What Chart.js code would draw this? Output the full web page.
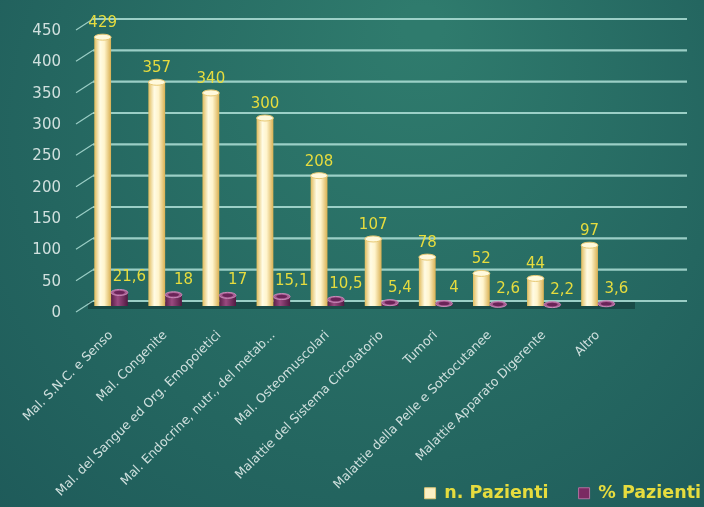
<!DOCTYPE html>
<html><head><meta charset="utf-8">
<script src="https://cdn.jsdelivr.net/npm/chart.js@4.4.0/dist/chart.umd.min.js"></script>
<style>html,body{margin:0;padding:0;background:#22625e;overflow:hidden}#wrap{width:704px;height:507px}</style>
</head><body><div id="wrap"><canvas id="c" width="704" height="507"></canvas></div>
<script>
const categories = [
  "Mal. S.N.C. e Senso",
  "Mal. Congenite",
  "Mal. del Sangue ed Org. Emopoietici",
  "Mal. Endocrine, nutr., del metab...",
  "Mal. Osteomuscolari",
  "Malattie del Sistema Circolatorio",
  "Tumori",
  "Malattie della Pelle e Sottocutanee",
  "Malattie Apparato Digerente",
  "Altro"
];
const nPazienti = [429, 357, 340, 300, 208, 107, 78, 52, 44, 97];
const pctPazienti = [21.6, 18, 17, 15.1, 10.5, 5.4, 4, 2.6, 2.2, 3.6];
const seriesNames = ["n. Pazienti", "% Pazienti"];
const yMin = 0, yMax = 450, yStep = 50;

const FONT = '"DejaVu Sans", sans-serif';
const LABEL_YELLOW = '#e6dc3e';
const AXIS_TEXT = '#d0e0de';
const PAD_B = -5, PAD_R = -27;

const bgPlugin = {
  id: 'bg',
  beforeDraw(chart) {
    const c = chart.ctx, w = chart.width, h = chart.height;
    c.save();
    const g = c.createRadialGradient(w * 0.6, h * 0.05, 20, w * 0.5, h * 0.4, w * 0.85);
    g.addColorStop(0, '#2f7b6d');
    g.addColorStop(0.55, '#246660');
    g.addColorStop(1, '#1b5456');
    c.fillStyle = g;
    c.fillRect(0, 0, w, h);
    c.restore();
  },
  afterLayout(chart) {
    chart.scales.x.bottom = chart.height;
  }
};

const gridPlugin = {
  id: 'grid3d',
  beforeDatasetsDraw(chart) {
    const c = chart.ctx, ys = chart.scales.y, area = chart.chartArea;
    c.save();
    const fy = ys.getPixelForValue(0);
    c.fillStyle = 'rgba(10,40,40,0.45)';
    c.fillRect(area.left + 4, fy - 4, area.right - area.left + 6, 7);
    ys.ticks.forEach(t => {
      const y = ys.getPixelForValue(t.value) - 5;
      c.strokeStyle = 'rgba(180,228,220,0.82)';
      c.lineWidth = 2.2;
      c.beginPath();
      c.moveTo(area.left + 9, y);
      c.lineTo(687, y);
      c.stroke();
      c.lineWidth = 1.2;
      c.beginPath();
      c.moveTo(area.left - 8, y + 11);
      c.lineTo(area.left + 9, y);
      c.stroke();
    });
    chart.data.datasets.forEach((ds, di) => {
      const meta = chart.getDatasetMeta(di);
      meta.data.forEach(el => {
        const x0 = el.x - el.width / 2, x1 = el.x + el.width / 2;
        const g = c.createLinearGradient(x0, 0, x1, 0);
        if (di === 0) {
          g.addColorStop(0, '#e0bb5c');
          g.addColorStop(0.35, '#fffbe4');
          g.addColorStop(0.6, '#fff4cc');
          g.addColorStop(1, '#d9b052');
        } else {
          g.addColorStop(0, '#5a1f48');
          g.addColorStop(0.4, '#9a4a80');
          g.addColorStop(1, '#521a42');
        }
        el.options.backgroundColor = g;
      });
    });
    c.restore();
  }
};

const labelPlugin = {
  id: 'labels3d',
  afterDatasetsDraw(chart) {
    const c = chart.ctx;
    c.save();
    chart.data.datasets.forEach((ds, di) => {
      const meta = chart.getDatasetMeta(di);
      meta.data.forEach((el, i) => {
        const rx = el.width / 2, ry = 3;
        c.beginPath();
        c.ellipse(el.x, el.y, rx, ry, 0, 0, Math.PI * 2);
        c.fillStyle = di === 0 ? '#fff9dc' : '#a85c92';
        c.fill();
        c.lineWidth = 1;
        c.strokeStyle = di === 0 ? '#e7c872' : '#c88ab8';
        c.stroke();
        if (di === 1) {
          c.beginPath();
          c.ellipse(el.x, el.y, rx - 3, ry - 1.2, 0, 0, Math.PI * 2);
          c.fillStyle = '#6a2458';
          c.fill();
        }
        c.font = '15px ' + FONT;
        c.fillStyle = LABEL_YELLOW;
        c.textAlign = 'center';
        c.textBaseline = 'middle';
        const v = ds.data[i];
        if (di === 0) {
          c.fillText(String(v), el.x, el.y - 14);
        } else {
          c.fillText(String(v).replace('.', ','), el.x + 10, el.y - 15);
        }
      });
    });
    c.restore();
  }
};

new Chart(document.getElementById('c'), {
  type: 'bar',
  data: {
    labels: categories,
    datasets: [
      { label: seriesNames[0], data: nPazienti, backgroundColor: () => '#fff3c8', borderWidth: 0,
        categoryPercentage: 0.62, barPercentage: 1.0 },
      { label: seriesNames[1], data: pctPazienti, backgroundColor: () => '#7a2a62', borderWidth: 0,
        categoryPercentage: 0.62, barPercentage: 1.0 }
    ]
  },
  options: {
    responsive: false,
    animation: false,
    devicePixelRatio: 1,
    layout: { padding: { top: 11, bottom: PAD_B, left: 0, right: PAD_R } },
    plugins: {
      tooltip: { enabled: false },
      legend: {
        position: 'bottom',
        align: 'end',
        labels: {
          color: LABEL_YELLOW,
          font: { family: FONT, size: 17.5, weight: 'bold' },
          boxWidth: 11,
          boxHeight: 11,
          padding: 30,
          generateLabels: () => [
            { text: seriesNames[0], fillStyle: '#fbf0c4', strokeStyle: '#e2c878', lineWidth: 1, fontColor: LABEL_YELLOW, datasetIndex: 0 },
            { text: seriesNames[1], fillStyle: '#7a2a62', strokeStyle: '#b070a0', lineWidth: 1, fontColor: LABEL_YELLOW, datasetIndex: 1 }
          ]
        }
      }
    },
    scales: {
      x: {
        grid: { display: false },
        border: { display: false },
        ticks: {
          color: AXIS_TEXT,
          font: { family: FONT, size: 12.5 },
          minRotation: 45,
          maxRotation: 45,
          autoSkip: false,
          padding: 14
        },
        afterFit(scale) {
          const lh = scale.chart.legend ? scale.chart.legend.height : 0;
          scale.height = 507 - 306 - lh - PAD_B;
        }
      },
      y: {
        min: yMin,
        max: yMax,
        grid: { display: false },
        border: { display: false },
        ticks: {
          stepSize: yStep,
          color: AXIS_TEXT,
          font: { family: FONT, size: 15 },
          padding: 15,
          labelOffset: 7
        },
        afterFit(scale) { scale.width = 84; }
      },
      y2: {
        position: 'right',
        display: true,
        grid: { display: false },
        border: { display: false },
        ticks: { display: false },
        afterFit(scale) { scale.width = 79 - PAD_R; }
      }
    }
  },
  plugins: [bgPlugin, gridPlugin, labelPlugin]
});
</script>
</body></html>
